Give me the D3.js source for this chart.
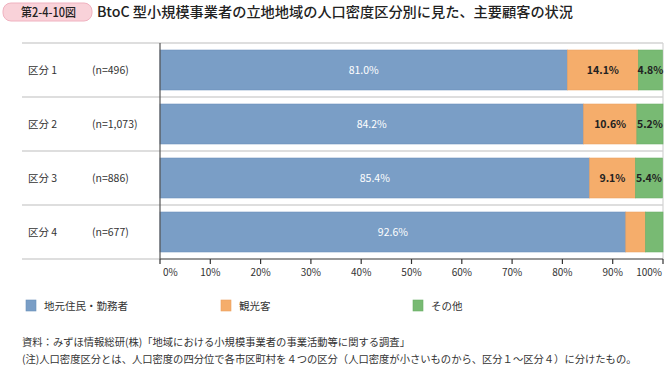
<!DOCTYPE html>
<html><head><meta charset="utf-8">
<script src="https://cdn.jsdelivr.net/npm/d3@7"></script>
<style>
body{margin:0;background:#fff;}
text{font-family:"Noto Sans CJK JP","Noto Sans",sans-serif;}
</style></head>
<body><svg id="c" width="664" height="366"></svg>
<script>
const categories = ["区分 1","区分 2","区分 3","区分 4"];
const sampleSizes = ["(n=496)","(n=1,073)","(n=886)","(n=677)"];
const seriesNames = ["地元住民・勤務者","観光客","その他"];
const local = [81.0, 84.2, 85.4, 92.6];
const tourist = [14.1, 10.6, 9.1, 3.9];
const other = [4.8, 5.2, 5.4, 3.5];
const showLabel = [[true,true,true],[true,true,true],[true,true,true],[true,false,false]];
const tickValues = [0,10,20,30,40,50,60,70,80,90,100];
const colors = ["#7a9ec6","#f5ad6b","#78ba73"];
const strokeColors = ["#6a8fba","#eaa060","#6aae66"];
const labelColors = ["#ffffff","#222222","#222222"];

const svg = d3.select("#c");
const x = d3.scaleLinear().domain([0,100]).range([160,663]);
const y = d3.scaleBand().domain(categories).range([43,259]).paddingInner(0.26).paddingOuter(0.13);
const yRow = d3.scaleBand().domain(categories).range([43,259]);

// header
svg.append("rect").attr("x",3).attr("y",3).attr("width",89).attr("height",18).attr("rx",8)
  .attr("fill","#f9d2d9").attr("stroke","#f0b2c0").attr("stroke-width",1);
svg.append("text").attr("x",21).attr("y",17).attr("font-size",12.5).attr("font-weight",500).attr("fill","#222").text("第2-4-10図")
  .attr("textLength",55).attr("lengthAdjust","spacingAndGlyphs");
svg.append("text").attr("x",97).attr("y",17).attr("font-size",14).attr("font-weight",500).attr("fill","#222")
  .text("BtoC 型小規模事業者の立地地域の人口密度区分別に見た、主要顧客の状況")
  .attr("textLength",476).attr("lengthAdjust","spacingAndGlyphs");

// row separators
const seps = categories.map(c=>yRow(c)).concat([yRow.range()[1]]);
svg.selectAll("line.sep").data(seps).enter().append("line").attr("class","sep")
  .attr("x1",22).attr("x2",663).attr("y1",d=>d).attr("y2",d=>d)
  .attr("stroke","#d3d3d3").attr("stroke-width",1.6);
// right border
svg.append("line").attr("x1",663).attr("x2",663).attr("y1",43).attr("y2",259).attr("stroke","#d3d3d3").attr("stroke-width",1.2);

// row labels
const rows = svg.selectAll("g.row").data(categories).enter().append("g");
rows.append("text").attr("x",28).attr("y",c=>yRow(c)+yRow.bandwidth()/2+4).attr("font-size",10.5).attr("fill","#333").text(c=>c);
rows.append("text").attr("x",92).attr("y",c=>yRow(c)+yRow.bandwidth()/2+4).attr("font-size",10.5).attr("fill","#333").text((c,i)=>sampleSizes[i]);

// stacked bars
const seriesVals = [local,tourist,other];
categories.forEach((c,i)=>{
  let acc = 0;
  seriesVals.forEach((s,k)=>{
    const v = s[i];
    const x0 = x(acc), x1 = x(Math.min(acc+v,100));
    svg.append("rect").attr("x",x0).attr("y",y(c)).attr("width",x1-x0).attr("height",y.bandwidth())
      .attr("fill",colors[k]).attr("stroke",strokeColors[k]).attr("stroke-width",0.6);
    if(showLabel[i][k]){
      svg.append("text").attr("x",(x0+x1)/2).attr("y",y(c)+y.bandwidth()/2+4)
        .attr("text-anchor","middle").attr("font-size",10.5).attr("font-weight",k===0?400:600)
        .attr("fill",labelColors[k]).text(v.toFixed(1)+"%");
    }
    acc += v;
  });
});

// axes
svg.append("line").attr("x1",160).attr("x2",160).attr("y1",43).attr("y2",259).attr("stroke","#555").attr("stroke-width",1.2);
svg.append("line").attr("x1",160).attr("x2",663).attr("y1",259).attr("y2",259).attr("stroke","#555").attr("stroke-width",1.2);
const ticks = svg.selectAll("g.tick").data(tickValues).enter().append("g");
ticks.append("line").attr("x1",d=>x(d)).attr("x2",d=>x(d)).attr("y1",259).attr("y2",264).attr("stroke","#333").attr("stroke-width",1.2);
ticks.append("text").attr("x",d=>d===0?x(d)+3:(d===100?x(d)-1:x(d)))
  .attr("text-anchor",d=>d===0?"start":(d===100?"end":"middle"))
  .attr("y",276).attr("font-size",10).attr("fill","#333").text(d=>d+"%");

// legend
const legX = [26,221,413];
seriesNames.forEach((n,k)=>{
  svg.append("rect").attr("x",legX[k]).attr("y",300).attr("width",10).attr("height",11)
    .attr("fill",colors[k]).attr("stroke",strokeColors[k]).attr("stroke-width",0.6);
  svg.append("text").attr("x",legX[k]+18).attr("y",310).attr("font-size",10.5).attr("fill","#333").text(n);
});

// footer
svg.append("text").attr("x",22).attr("y",346).attr("font-size",10.3).attr("fill","#333")
  .text("資料：みずほ情報総研(株)「地域における小規模事業者の事業活動等に関する調査」");
svg.append("text").attr("x",22).attr("y",363).attr("font-size",10.3).attr("fill","#333")
  .text("(注)人口密度区分とは、人口密度の四分位で各市区町村を４つの区分（人口密度が小さいものから、区分１～区分４）に分けたもの。");
</script></body></html>
